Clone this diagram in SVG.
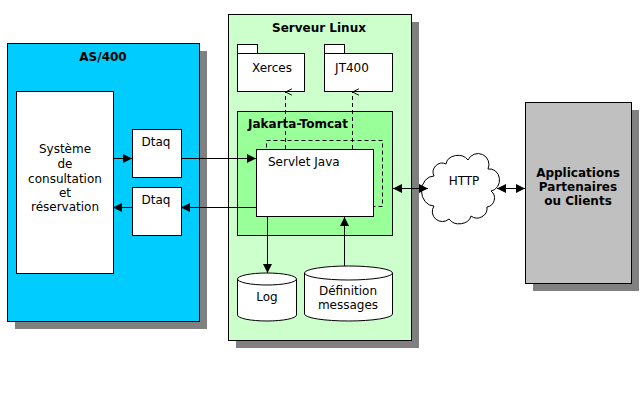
<svg xmlns="http://www.w3.org/2000/svg" width="640" height="408" viewBox="0 0 640 408">
<style>
text{font-family:"DejaVu Sans",Verdana,sans-serif;font-size:12px;fill:#000}
.b{font-weight:bold}
.c{text-anchor:middle}
.box{stroke:#000;stroke-width:1}
.w{fill:#fff;stroke:#000;stroke-width:1}
.sh{fill:#808080}
.ln{stroke:#000;stroke-width:1;fill:none}
.dash{stroke:#000;stroke-width:1;fill:none;stroke-dasharray:4,3}
</style>
<defs>
<marker id="ah" viewBox="0 0 10 10" refX="10" refY="5" markerWidth="9" markerHeight="9" markerUnits="userSpaceOnUse" orient="auto-start-reverse">
<path d="M0,0 L10,5 L0,10 Z" fill="#000"/>
</marker>
<marker id="oh" viewBox="0 0 10 10" refX="5" refY="1" markerWidth="8" markerHeight="8" markerUnits="userSpaceOnUse" orient="auto">
<path d="M1,9 L5,1 L9,9" fill="none" stroke="#000" stroke-width="1.2"/>
</marker>
</defs>

<g id="as400">
<rect class="sh" x="15" y="51" width="192" height="278"/>
<rect class="box" x="7.5" y="43.5" width="192" height="278" fill="#00CCFF"/>
<text class="b c" x="103" y="61">AS/400</text>
</g>
<g id="systeme">
<rect class="w" x="16.5" y="91.5" width="97" height="182"/>
<text class="c" x="65" y="153">Système</text>
<text class="c" x="65" y="168">de</text>
<text class="c" x="65" y="183">consultation</text>
<text class="c" x="65" y="197">et</text>
<text class="c" x="65" y="211">réservation</text>
</g>
<g id="dtaq1">
<rect class="w" x="132.5" y="129.5" width="49" height="48"/>
<text class="c" x="156" y="146">Dtaq</text>
</g>
<g id="dtaq2">
<rect class="w" x="132.5" y="187.5" width="49" height="48"/>
<text class="c" x="156" y="204">Dtaq</text>
</g>

<g id="serveur">
<rect class="sh" x="236" y="22" width="183" height="326"/>
<rect class="box" x="228.5" y="14.5" width="183" height="326" fill="#CCFFCC"/>
<text class="b c" x="319" y="32">Serveur Linux</text>
</g>
<g id="xerces">
<rect class="w" x="237.5" y="44.5" width="20" height="9"/>
<rect class="w" x="237.5" y="53.5" width="67" height="38"/>
<text class="c" x="272" y="72">Xerces</text>
</g>
<g id="jt400">
<rect class="w" x="324.5" y="44.5" width="20" height="9"/>
<rect class="w" x="324.5" y="53.5" width="68" height="38"/>
<text class="c" x="352" y="72">JT400</text>
</g>
<g id="tomcat">
<rect class="box" x="237.5" y="111.5" width="155" height="124" fill="#99FF99"/>
<text class="b" x="248" y="128">Jakarta-Tomcat</text>
</g>
<g id="servlet">
<rect x="266.5" y="140.5" width="116" height="66" fill="#fff" class="dash"/>
<rect class="w" x="256.5" y="149.5" width="117" height="67"/>
<text x="268" y="166">Servlet Java</text>
</g>
<g id="log">
<path class="w" d="M237.5,279 L237.5,315 A29.5,6 0 0 0 296.5,315 L296.5,279 A29.5,6 0 0 0 237.5,279 A29.5,6 0 0 0 296.5,279"/>
<text class="c" x="267" y="301">Log</text>
</g>
<g id="definition">
<path class="w" d="M304.5,273 L304.5,314 A44,7 0 0 0 392.5,314 L392.5,273 A44,7 0 0 0 304.5,273 A44,7 0 0 0 392.5,273"/>
<text class="c" x="348" y="295">Définition</text>
<text class="c" x="348" y="309">messages</text>
</g>

<g id="http">
<path class="w" d="M434,176 A9,9 0 0 1 446,164 A12,10 0 0 1 468,160 A10,10 0 0 1 488,169 A9,10 0 0 1 491,191 A9,9 0 0 1 487,207 A10,10 0 0 1 471,216 A12,10 0 0 1 449,219 A10,10 0 0 1 434,206 A10,12 0 0 1 434,176 Z"/>
<text class="c" x="464" y="185">HTTP</text>
</g>
<g id="apps">
<rect class="sh" x="533" y="110" width="106" height="181"/>
<rect class="box" x="525.5" y="102.5" width="106" height="181" fill="#C0C0C0"/>
<text class="b c" x="578" y="177">Applications</text>
<text class="b c" x="578" y="191">Partenaires</text>
<text class="b c" x="578" y="205">ou Clients</text>
</g>

<g id="connectors">
<line class="ln" x1="113" y1="158.5" x2="132" y2="158.5" marker-end="url(#ah)"/>
<line class="ln" x1="132" y1="207.5" x2="113" y2="207.5" marker-end="url(#ah)"/>
<line class="ln" x1="181" y1="158.5" x2="256" y2="158.5" marker-end="url(#ah)"/>
<line class="ln" x1="256" y1="207.5" x2="181" y2="207.5" marker-end="url(#ah)"/>
<line class="dash" x1="285.5" y1="149" x2="285.5" y2="92" marker-end="url(#oh)"/>
<line class="dash" x1="352.5" y1="149" x2="352.5" y2="92" marker-end="url(#oh)"/>
<line class="ln" x1="267.5" y1="217" x2="267.5" y2="273" marker-end="url(#ah)"/>
<line class="ln" x1="344.5" y1="266" x2="344.5" y2="217" marker-end="url(#ah)"/>
<line class="ln" x1="393" y1="188.5" x2="428" y2="188.5" marker-start="url(#ah)" marker-end="url(#ah)"/>
<line class="ln" x1="497" y1="188.5" x2="525" y2="188.5" marker-start="url(#ah)" marker-end="url(#ah)"/>
</g>
</svg>
